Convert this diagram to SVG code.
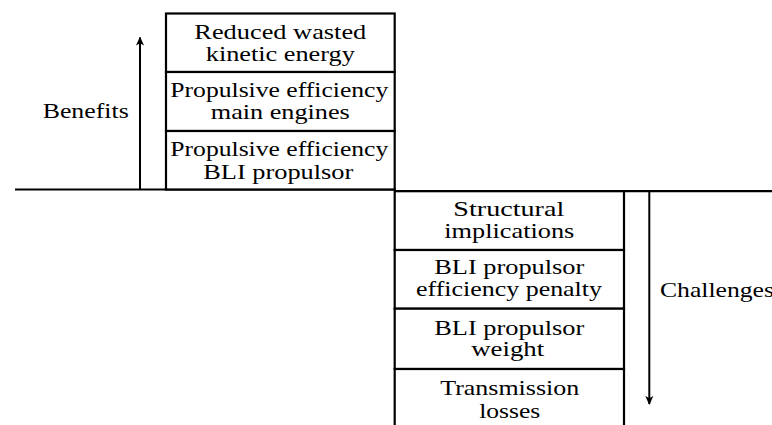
<svg xmlns="http://www.w3.org/2000/svg" width="772" height="425" viewBox="0 0 772 425">
<style>
.box{fill:#fff;stroke:#000;stroke-width:2.2}
.ln{stroke:#000;stroke-width:2.2;fill:none}
.ar{stroke:#000;stroke-width:2;fill:none}
text{font-family:"Liberation Serif","Times New Roman",serif;font-size:21.5px;fill:#000;text-anchor:middle}
.st{text-anchor:start}
</style>
<defs>
<marker id="ah" viewBox="0 0 10 10" refX="9" refY="5" markerWidth="9" markerHeight="9" markerUnits="userSpaceOnUse" orient="auto">
<path d="M0,0.5 L10,5 L0,9.5 L2.5,5 Z" fill="#000"/>
</marker>
</defs>
<g id="connectors">
<line class="ln" x1="15" y1="189.5" x2="396" y2="189.5"/>
<line class="ln" x1="394" y1="191.2" x2="772" y2="191.2"/>
<line class="ar" x1="140" y1="189" x2="140" y2="37.5" marker-end="url(#ah)"/>
<line class="ar" x1="649.3" y1="191" x2="649.3" y2="404" marker-end="url(#ah)"/>
</g>
<g id="benefits-label"><text class="st" x="42.7" y="118.3" textLength="86" lengthAdjust="spacingAndGlyphs">Benefits</text></g>
<g id="challenges-label"><text class="st" x="660" y="296.7" textLength="114" lengthAdjust="spacingAndGlyphs">Challenges</text></g>
<g id="b1">
<rect class="box" x="166" y="13.5" width="228.7" height="58.5"/>
<text><tspan x="280.3" y="39" textLength="172" lengthAdjust="spacingAndGlyphs">Reduced wasted</tspan><tspan x="280.3" y="61.3" textLength="149" lengthAdjust="spacingAndGlyphs">kinetic energy</tspan></text>
</g>
<g id="b2">
<rect class="box" x="166" y="72" width="228.7" height="59"/>
<text><tspan x="279.3" y="96.7" textLength="218" lengthAdjust="spacingAndGlyphs">Propulsive efficiency</tspan><tspan x="280.3" y="119.3" textLength="139" lengthAdjust="spacingAndGlyphs">main engines</tspan></text>
</g>
<g id="b3">
<rect class="box" x="166" y="131" width="228.7" height="58.5"/>
<text><tspan x="279.3" y="156.4" textLength="218" lengthAdjust="spacingAndGlyphs">Propulsive efficiency</tspan><tspan x="278.3" y="179.2" textLength="150" lengthAdjust="spacingAndGlyphs">BLI propulsor</tspan></text>
</g>
<g id="c1">
<rect class="box" x="394.7" y="191.2" width="229.3" height="58.8"/>
<text><tspan x="508.8" y="215.6" textLength="111" lengthAdjust="spacingAndGlyphs">Structural</tspan><tspan x="509.3" y="238.4" textLength="130" lengthAdjust="spacingAndGlyphs">implications</tspan></text>
</g>
<g id="c2">
<rect class="box" x="394.7" y="250" width="229.3" height="58.7"/>
<text><tspan x="509.3" y="274.4" textLength="150" lengthAdjust="spacingAndGlyphs">BLI propulsor</tspan><tspan x="509" y="296" textLength="186" lengthAdjust="spacingAndGlyphs">efficiency penalty</tspan></text>
</g>
<g id="c3">
<rect class="box" x="394.7" y="308.7" width="229.3" height="60.3"/>
<text><tspan x="509.3" y="334.7" textLength="150" lengthAdjust="spacingAndGlyphs">BLI propulsor</tspan><tspan x="507.7" y="356.3" textLength="73" lengthAdjust="spacingAndGlyphs">weight</tspan></text>
</g>
<g id="c4">
<rect class="box" x="394.7" y="369" width="229.3" height="70"/>
<text><tspan x="509.7" y="395.3" textLength="139" lengthAdjust="spacingAndGlyphs">Transmission</tspan><tspan x="509.7" y="418.3" textLength="61" lengthAdjust="spacingAndGlyphs">losses</tspan></text>
</g>
</svg>
